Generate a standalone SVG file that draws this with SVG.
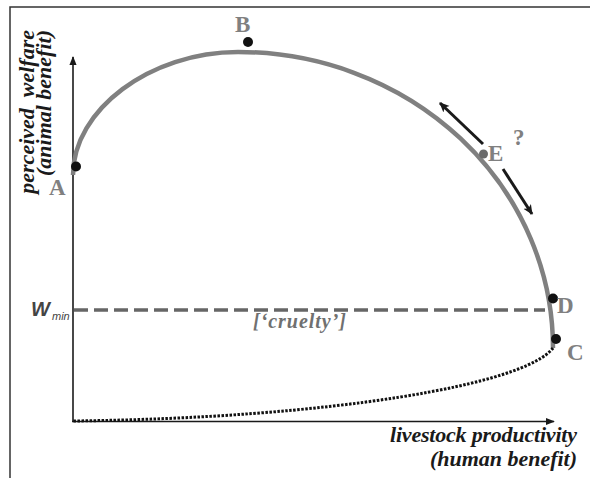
<svg xmlns="http://www.w3.org/2000/svg" width="590" height="478" viewBox="0 0 590 478">
<style>
.lbl{font-family:"Liberation Serif",serif;font-weight:bold;fill:#808080;font-size:23px}
.ax{font-family:"Liberation Serif",serif;font-weight:bold;font-style:italic;fill:#1a1a1a;font-size:22px}
.axis{stroke:#1a1a1a;stroke-width:1.6;fill:none}
.dot{fill:#111}
</style>
<defs>
<marker id="ah" viewBox="0 0 10 10" refX="9" refY="5" markerWidth="9" markerHeight="9" markerUnits="userSpaceOnUse" orient="auto">
<path d="M0,1 L10,5 L0,9 Z" fill="#1a1a1a"/>
</marker>
<marker id="ah2" viewBox="0 0 10 10" refX="9" refY="5" markerWidth="10" markerHeight="10" markerUnits="userSpaceOnUse" orient="auto">
<path d="M0,0.5 L10,5 L0,9.5 L2.5,5 Z" fill="#1a1a1a"/>
</marker>
</defs>
<rect width="590" height="478" fill="#fff"/>
<g id="frame">
<path d="M10,478 L10,7 L590,7" fill="none" stroke="#333" stroke-width="1.5"/>
</g>
<g id="axes">
<line class="axis" x1="73" y1="422" x2="73" y2="57" marker-end="url(#ah)"/>
<line class="axis" x1="72" y1="421.5" x2="554" y2="421.5" marker-end="url(#ah)"/>
<text class="ax" transform="translate(34,30) rotate(-90)" text-anchor="end">perceived&#160;&#160;welfare</text>
<text class="ax" transform="translate(51,30) rotate(-90)" text-anchor="end" font-size="21">(animal benefit)</text>
<text class="ax" x="577" y="442" text-anchor="end" font-size="21" textLength="187" lengthAdjust="spacing">livestock productivity</text>
<text class="ax" x="577" y="466" text-anchor="end" font-size="21" textLength="147" lengthAdjust="spacing">(human benefit)</text>
</g>
<g id="connectors">
<path id="frontier" d="M73,175 C73,110 150,52 238,52 A315,296 0 0 1 553,348" fill="none" stroke="#808080" stroke-width="4.5"/>
<path id="cruelty-curve" d="M553,348 C525,385 330,418 73,421" fill="none" stroke="#111" stroke-width="3" stroke-dasharray="2.5 1.5"/>
<line id="wmin-line" x1="74" y1="310" x2="545" y2="310" stroke="#666" stroke-width="3.5" stroke-dasharray="14 6"/>
<line id="arrow-up" x1="483" y1="144" x2="440" y2="103" stroke="#1a1a1a" stroke-width="3" marker-end="url(#ah2)"/>
<line id="arrow-down" x1="503" y1="169" x2="532" y2="214" stroke="#1a1a1a" stroke-width="3" marker-end="url(#ah2)"/>
</g>
<g id="node-A">
<circle class="dot" cx="76" cy="166.5" r="5"/>
<text class="lbl" x="49" y="195">A</text>
</g>
<g id="node-B">
<circle class="dot" cx="248" cy="42" r="5"/>
<text class="lbl" x="235" y="32">B</text>
</g>
<g id="node-C">
<circle class="dot" cx="556" cy="339" r="5"/>
<text class="lbl" x="567" y="360">C</text>
</g>
<g id="node-D">
<circle class="dot" cx="553" cy="298.5" r="5"/>
<text class="lbl" x="557" y="313">D</text>
</g>
<g id="node-E">
<circle cx="483.5" cy="154" r="4.5" fill="#6a6a6a"/>
<text class="lbl" x="488" y="161">E</text>
<text class="lbl" x="513" y="145" font-size="28">?</text>
</g>
<g id="wmin">
<text x="31" y="316" font-family="Liberation Sans,Arial,sans-serif" font-weight="bold" font-style="italic" font-size="20" fill="#444">W</text>
<text x="52" y="320" font-family="Liberation Sans,Arial,sans-serif" font-style="italic" font-size="11" fill="#444">min</text>
</g>
<g id="cruelty">
<text x="253" y="328" font-family="Liberation Serif,serif" font-weight="bold" font-style="italic" font-size="20" fill="#707070" textLength="93" lengthAdjust="spacing">[‘cruelty’]</text>
</g>
</svg>
